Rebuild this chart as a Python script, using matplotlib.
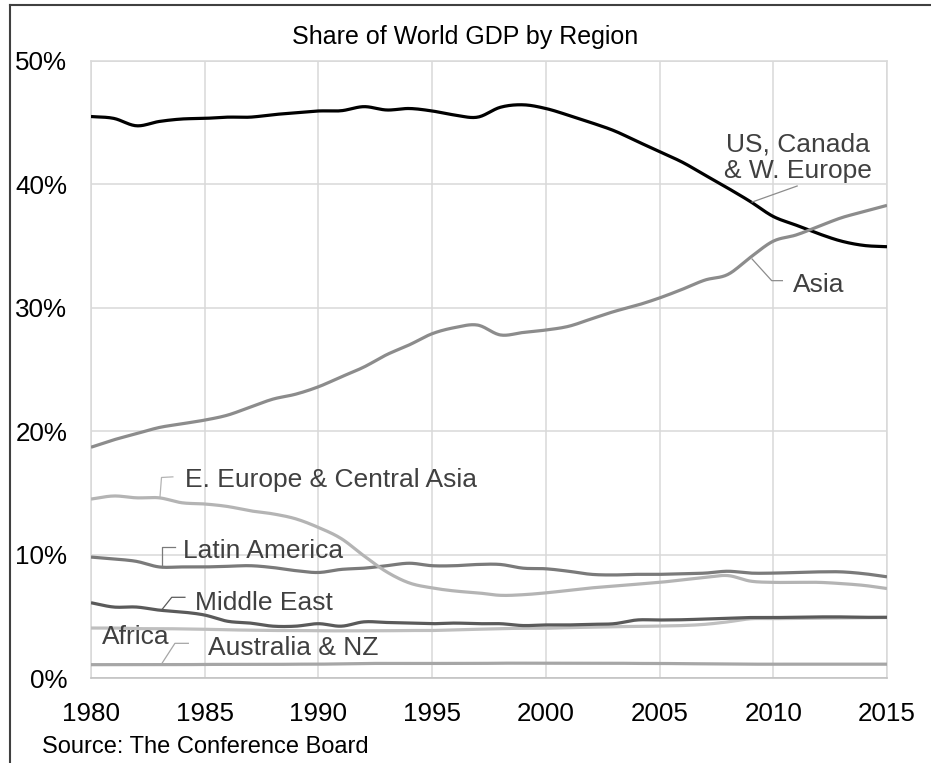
import numpy as np
import matplotlib
matplotlib.use("Agg")
import matplotlib.pyplot as plt
from matplotlib.lines import Line2D

plt.rcParams['font.family'] = ['Liberation Sans', 'DejaVu Sans']

years = list(range(1980, 2016))

us_weu = [45.5, 45.35, 44.75, 45.1, 45.3, 45.35, 45.45, 45.45, 45.65, 45.8,
          45.95, 45.97, 46.3, 46.03, 46.15, 45.95, 45.62, 45.45, 46.25, 46.45,
          46.15, 45.6, 45.0, 44.35, 43.5, 42.65, 41.8, 40.75, 39.7, 38.6,
          37.4, 36.7, 36.0, 35.4, 35.05, 34.95]
asia = [18.7, 19.3, 19.8, 20.3, 20.6, 20.9, 21.3, 21.95, 22.6, 23.0,
        23.6, 24.4, 25.2, 26.2, 27.0, 27.9, 28.4, 28.6, 27.8, 28.0,
        28.2, 28.5, 29.1, 29.7, 30.2, 30.8, 31.5, 32.25, 32.7, 34.1,
        35.4, 35.9, 36.6, 37.3, 37.8, 38.3]
e_europe = [14.5, 14.75, 14.6, 14.6, 14.2, 14.1, 13.9, 13.55, 13.3, 12.9,
            12.2, 11.3, 9.9, 8.6, 7.7, 7.3, 7.05, 6.9, 6.7, 6.75,
            6.9, 7.1, 7.3, 7.45, 7.6, 7.75, 7.95, 8.15, 8.3, 7.85,
            7.75, 7.75, 7.75, 7.65, 7.5, 7.25]
latin_am = [9.8, 9.65, 9.45, 9.0, 9.0, 9.0, 9.05, 9.1, 8.95, 8.7,
            8.55, 8.8, 8.9, 9.1, 9.3, 9.1, 9.1, 9.2, 9.2, 8.9,
            8.85, 8.65, 8.4, 8.35, 8.4, 8.4, 8.45, 8.5, 8.65, 8.5,
            8.5, 8.55, 8.6, 8.6, 8.45, 8.2]
mid_east = [6.1, 5.75, 5.75, 5.5, 5.35, 5.1, 4.6, 4.45, 4.2, 4.2,
            4.4, 4.2, 4.55, 4.5, 4.45, 4.4, 4.45, 4.4, 4.4, 4.25,
            4.3, 4.3, 4.35, 4.4, 4.7, 4.7, 4.72, 4.78, 4.85, 4.9,
            4.9, 4.92, 4.95, 4.95, 4.92, 4.92]
africa = [4.05, 4.05, 4.0, 4.0, 3.98, 3.95, 3.9, 3.88, 3.85, 3.85,
          3.83, 3.82, 3.83, 3.83, 3.85, 3.85, 3.9, 3.95, 4.0, 4.03,
          4.03, 4.08, 4.12, 4.16, 4.18, 4.21, 4.25, 4.35, 4.55, 4.8,
          4.81, 4.83, 4.85, 4.87, 4.89, 4.9]
aus_nz = [1.08, 1.08, 1.08, 1.08, 1.08, 1.1, 1.1, 1.1, 1.1, 1.12,
          1.12, 1.15, 1.18, 1.18, 1.18, 1.18, 1.18, 1.18, 1.2, 1.2,
          1.2, 1.2, 1.2, 1.2, 1.18, 1.18, 1.16, 1.15, 1.14, 1.12,
          1.12, 1.12, 1.12, 1.12, 1.12, 1.12]

y_ticks = [0, 10, 20, 30, 40, 50]
x_ticks = [1980, 1985, 1990, 1995, 2000, 2005, 2010, 2015]


def smooth(x, y, n=16):
    # excel style smoothed line (uniform catmull-rom)
    x = np.asarray(x, float)
    y = np.asarray(y, float)
    px = np.concatenate([[2 * x[0] - x[1]], x, [2 * x[-1] - x[-2]]])
    py = np.concatenate([[2 * y[0] - y[1]], y, [2 * y[-1] - y[-2]]])
    xs, ys = [], []
    t = np.linspace(0, 1, n, endpoint=False)
    for i in range(1, len(px) - 2):
        for arr, out in ((px, xs), (py, ys)):
            p0, p1, p2, p3 = arr[i - 1], arr[i], arr[i + 1], arr[i + 2]
            out.extend(0.5 * ((2 * p1) + (-p0 + p2) * t
                              + (2 * p0 - 5 * p1 + 4 * p2 - p3) * t ** 2
                              + (-p0 + 3 * p1 - 3 * p2 + p3) * t ** 3))
    xs.append(x[-1])
    ys.append(y[-1])
    return np.array(xs), np.array(ys)


fig = plt.figure(figsize=(9.31, 7.63), dpi=100)
ax = fig.add_axes([91 / 931, (763 - 678) / 763, (887 - 91) / 931, (678 - 61) / 763])

series = [
    (aus_nz, '#a6a6a6'),
    (africa, '#bfbfbf'),
    (mid_east, '#5a5a5a'),
    (latin_am, '#7a7a7a'),
    (e_europe, '#b4b4b4'),
    (us_weu, '#000000'),
    (asia, '#8c8c8c'),
]
for vals, col in series:
    sx, sy = smooth(years, vals)
    ax.plot(sx, sy, color=col, lw=2.3, solid_capstyle='butt', zorder=3)

ax.set_xlim(1980, 2015)
ax.set_ylim(0, 50)
ax.set_xticks(x_ticks)
ax.set_yticks(y_ticks)
ax.set_yticklabels([f'{v}%' for v in y_ticks])
ax.grid(True, color='#d9d9d9', lw=1.1)
ax.set_axisbelow(True)
for side in ['top', 'right', 'left']:
    ax.spines[side].set_color('#d9d9d9')
    ax.spines[side].set_linewidth(1.1)
ax.spines['bottom'].set_color('#bfbfbf')
ax.spines['bottom'].set_linewidth(1.1)
ax.tick_params(axis='both', length=0, labelsize=18.7, colors='black')
ax.tick_params(axis='y', pad=17)
ax.tick_params(axis='x', pad=17)

lab = dict(fontsize=19, color='#404040', va='baseline')


def leader(pts, col):
    xs, ys = zip(*pts)
    ax.plot(xs, ys, color=col, lw=0.9, zorder=4, clip_on=False)


leader([(1983.03, 14.6), (1983.1, 16.25), (1983.6, 16.3)], '#b4b4b4')
ax.text(1984.13, 15.5, 'E. Europe & Central Asia', **lab)

leader([(1983.1, 9.0), (1983.1, 10.6), (1983.7, 10.6)], '#7a7a7a')
ax.text(1984.05, 9.7, 'Latin America', **lab)

leader([(1983.1, 5.5), (1983.55, 6.54), (1984.13, 6.54)], '#5a5a5a')
ax.text(1984.57, 5.51, 'Middle East', **lab)

ax.text(1980.47, 2.76, 'Africa', **lab)

leader([(1983.1, 1.13), (1983.69, 2.81), (1984.28, 2.81)], '#a6a6a6')
ax.text(1985.16, 1.86, 'Australia & NZ', **lab)

leader([(2009.07, 38.57), (2011.05, 39.87)], '#8c8c8c')
ax.text(2011.1, 42.7, 'US, Canada', ha='center', **lab)
ax.text(2011.1, 40.5, '& W. Europe', ha='center', **lab)

leader([(2009.07, 33.95), (2009.93, 32.2), (2010.4, 32.2)], '#8c8c8c')
ax.text(2010.86, 31.3, 'Asia', **lab)

fig.text(465.5 / 931, 1 - 37 / 763, 'Share of World GDP by Region',
         fontsize=18, ha='center', va='center')
fig.text(42 / 931, 1 - 747 / 763, 'Source: The Conference Board',
         fontsize=17, ha='left', va='center')

# partial frame around the chart
fig.add_artist(Line2D([10 / 931, 10 / 931], [0, 1 - 5 / 763],
                      transform=fig.transFigure, color='#404040', lw=1.5))
fig.add_artist(Line2D([10 / 931, 1], [1 - 5 / 763, 1 - 5 / 763],
                      transform=fig.transFigure, color='#404040', lw=1.5))

fig.savefig('out.png', dpi=100)
